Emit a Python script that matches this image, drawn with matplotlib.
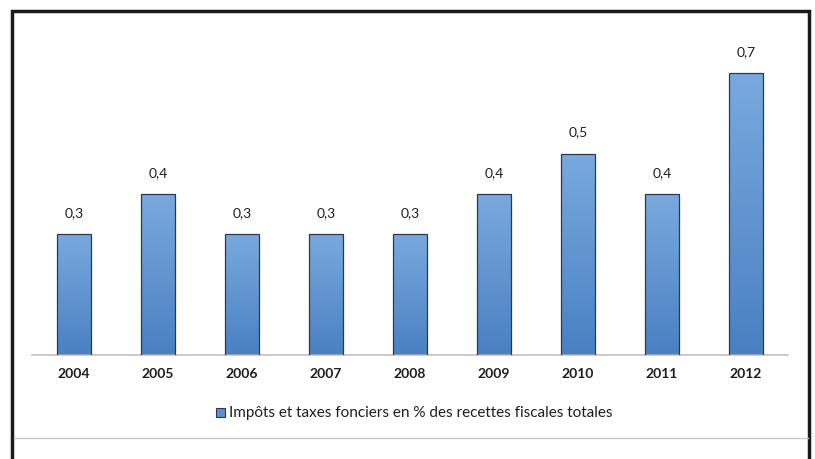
import numpy as np
import matplotlib
matplotlib.use("Agg")
from matplotlib import pyplot as plt
from matplotlib.patches import Rectangle
from matplotlib.lines import Line2D
from matplotlib.colors import LinearSegmentedColormap

years = ['2004', '2005', '2006', '2007', '2008', '2009', '2010', '2011', '2012']
values = [0.3, 0.4, 0.3, 0.3, 0.3, 0.4, 0.5, 0.4, 0.7]
labels = ['0,3', '0,4', '0,3', '0,3', '0,3', '0,4', '0,5', '0,4', '0,7']
legend_text = 'Impôts et taxes fonciers en % des recettes fiscales totales'

plt.rcParams['font.family'] = ['Lato', 'DejaVu Sans']

fig = plt.figure(figsize=(8.15, 4.6), dpi=100)
W, H = 815, 460

# outer frame
fig.patches.append(Rectangle((12 / W, -0.05), 797 / W, 448 / H + 0.05,
                             transform=fig.transFigure, fill=False,
                             edgecolor='#1a1a1a', linewidth=2.5))
fig.lines.append(Line2D([14 / W, 808 / W], [1 - 439 / H, 1 - 439 / H],
                        transform=fig.transFigure, color='#c8c8c8', linewidth=1))

ax = fig.add_axes([32 / W, 1 - 356 / H, 756 / W, (356 - 34) / H])
x = np.arange(len(years))
bw = 0.405
ax.set_xlim(-0.5, len(years) - 0.5)
ax.set_ylim(0, 0.8)

cmap = LinearSegmentedColormap.from_list('g', ['#4a80c2', '#79a9de'])
grad = np.linspace(0, 1, 256).reshape(-1, 1)
bars = ax.bar(x, values, width=bw, color='none', edgecolor='#2b3a4e', linewidth=0.9, zorder=3)
for b in bars:
    bx = b.get_x()
    bh = b.get_height()
    im = ax.imshow(grad, cmap=cmap, origin='lower', aspect='auto',
                   extent=[bx, bx + bw, 0, bh], zorder=2)
    im.set_clip_path(b)

for xi, v, lab in zip(x, values, labels):
    ax.annotate(lab, (xi, v), xytext=(0, 16), textcoords='offset points',
                ha='center', va='center', fontsize=10, color='#1e1e1e')

for s in ['top', 'right', 'left']:
    ax.spines[s].set_visible(False)
ax.spines['bottom'].set_color('#c0c0c0')
ax.spines['bottom'].set_linewidth(1.2)
ax.set_yticks([])
ax.set_xticks(x)
ax.set_xticklabels(years, fontsize=10, fontweight='bold', color='#1e1e1e')
ax.tick_params(axis='x', length=0, pad=9)

# legend
lx = 216 / W
ly = 1 - 413 / H
fig.patches.append(Rectangle((lx, ly - 4.5 / H), 9 / W, 9 / H, transform=fig.transFigure,
                             facecolor='#5b8fd0', edgecolor='#2b3a4e', linewidth=0.8))
fig.text(lx + 13 / W, ly, legend_text, fontsize=11, va='center', ha='left', color='#1e1e1e')

fig.savefig('out.png', dpi=100)
